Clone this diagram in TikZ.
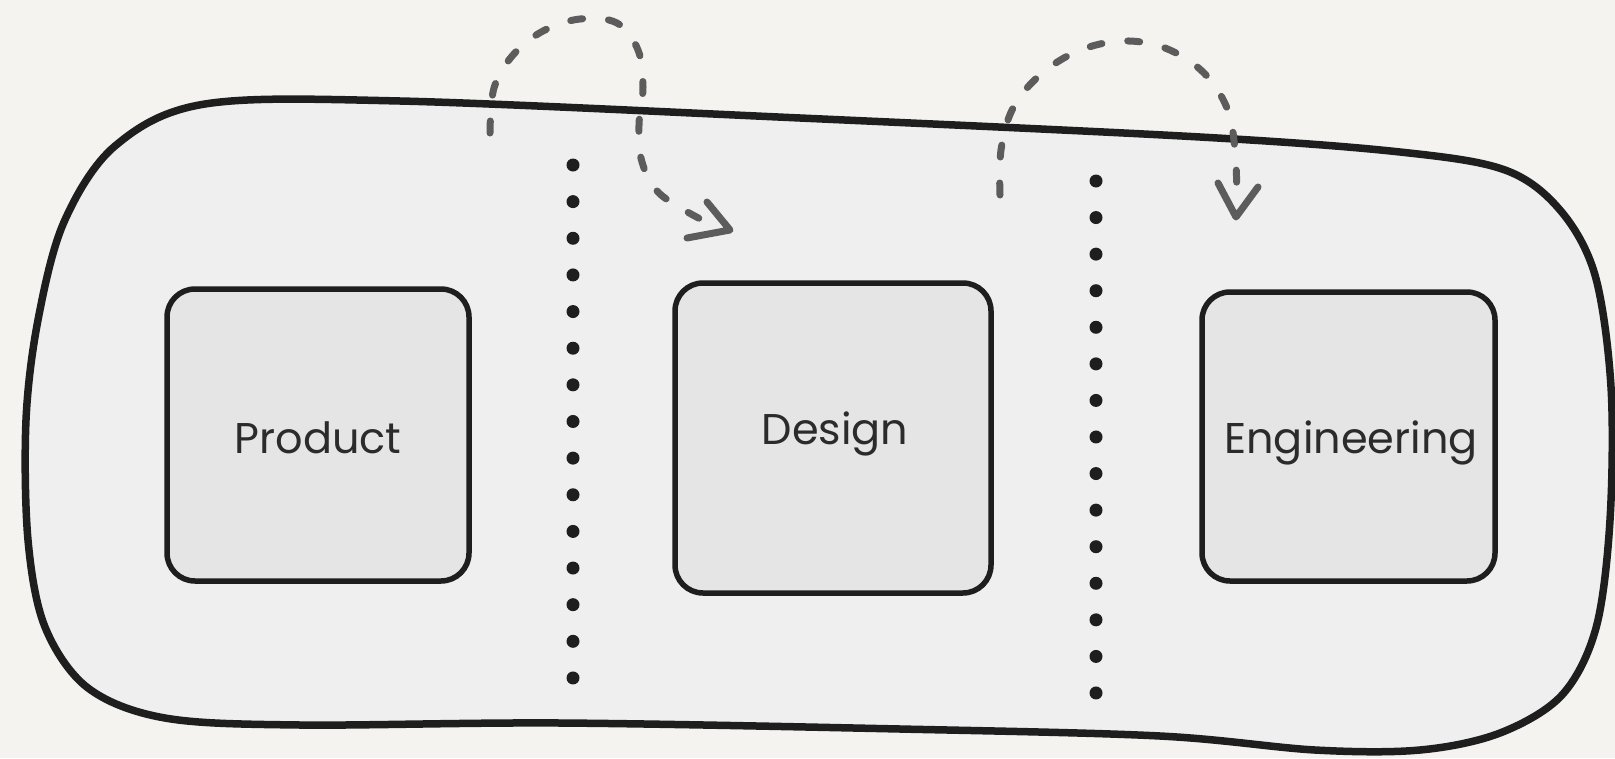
\documentclass[tikz,border=0pt]{standalone}
\usepackage{fontspec}
\setmainfont{Poppins}
\definecolor{bgc}{HTML}{F4F3EF}
\definecolor{blobfill}{HTML}{EFEFEF}
\definecolor{boxfill}{HTML}{E5E5E5}
\definecolor{ink}{HTML}{1E1E1E}
\definecolor{arrowgray}{HTML}{5C5C5C}
\definecolor{txt}{HTML}{2B2B2B}
\begin{document}
\begin{tikzpicture}[x=1pt,y=-1pt,
  teambox/.style={draw=ink, fill=boxfill, line width=5.5pt, rounded corners=28pt, inner sep=0pt},
  teamlabel/.style={anchor=base, text=txt, font=\fontsize{43}{50}\selectfont, inner sep=0pt},
  dotmark/.style={fill=ink},
  handoff/.style={draw=arrowgray, line width=7pt, line cap=round, dash pattern=on 12pt off 26pt},
  handhead/.style={draw=arrowgray, line width=7pt, line cap=round, line join=round}]
\fill[bgc] (0,0) rectangle (1615,758);
\useasboundingbox (0,0) rectangle (1615,758);
% outer container
\draw[ink, fill=blobfill, line width=7.5pt] plot[smooth cycle, tension=0.55] coordinates {
 (26,420) (38,320) (64,222) (115,146) (205,104) (400,101) (800,118) (1200,137)
 (1400,152) (1505,170) (1560,210) (1595,275) (1611,387) (1610,520) (1596,628)
 (1562,695) (1500,733) (1420,750) (1315,750) (1160,736) (900,729) (560,723)
 (300,725) (165,718) (88,688) (45,627) (28,540)};
% team boxes
\node[teambox, minimum width=302pt, minimum height=292pt] (pbox) at (318,435) {};
\node[teambox, minimum width=316pt, minimum height=310pt] (dbox) at (833,438) {};
\node[teambox, minimum width=293pt, minimum height=289pt] (ebox) at (1348.5,436.5) {};
\node[teamlabel] (ptext) at (318,453) {Product};
\node[teamlabel] (dtext) at (835,444) {Design};
\node[teamlabel] (etext) at (1351,453) {Engineering};
% dotted separators
\foreach \i in {0,...,14} {
  \fill[dotmark] (573,165+36.64*\i) circle (6.5pt);
  \fill[dotmark] (1096,181+36.57*\i) circle (6.5pt);
}
% hand-off arrow 1 (Product -> Design)
\coordinate (a1s) at (490,133);
\coordinate (a1t) at (730,230);
\draw[handoff] plot[smooth, tension=0.6] coordinates {
 (490,133) (494,88) (513,55) (543,31) (580,19) (617,23) (638,50) (643,87)
 (639,125) (642,162) (660,194) (706,222)};
\draw[handhead] (707,202) -- (a1t) -- (687,238);
% hand-off arrow 2 (Design -> Engineering)
\coordinate (a2s) at (1000,195);
\coordinate (a2t) at (1236,217);
\draw[handoff] plot[smooth, tension=0.6] coordinates {
 (1000,195) (1001,150) (1013,108) (1040,75) (1078,51) (1122,41) (1165,48)
 (1203,72) (1227,108) (1235,150) (1237,200)};
\draw[handhead] (1218,183) -- (a2t) -- (1258,187);
\end{tikzpicture}
\end{document}
